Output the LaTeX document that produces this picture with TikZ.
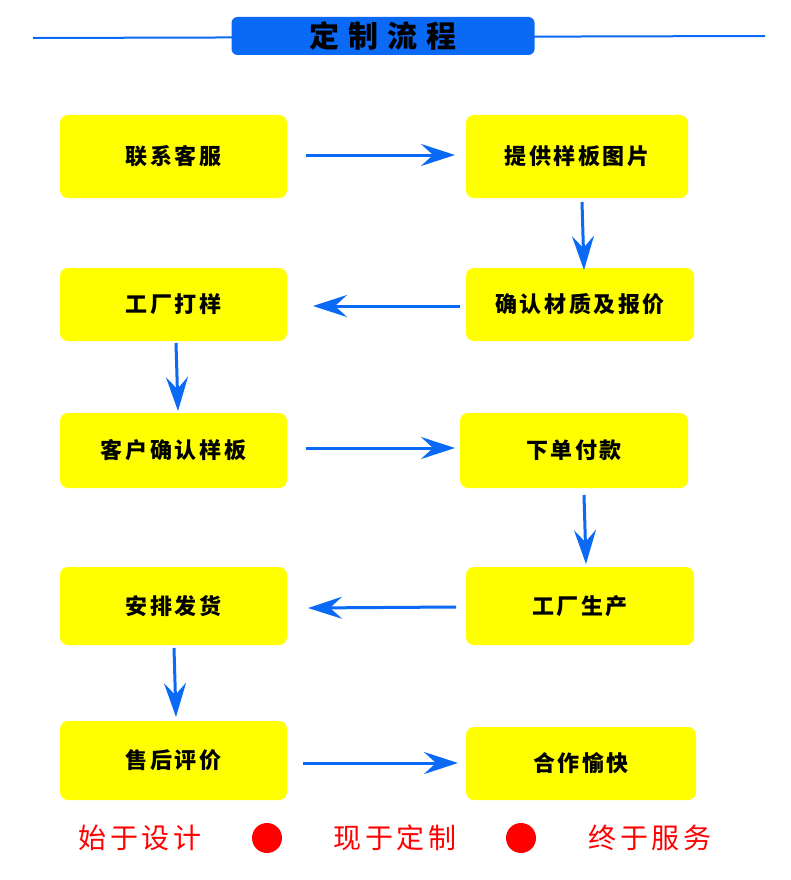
\documentclass[tikz,border=0pt]{standalone}
\usepackage{fontspec}
\newfontfamily\cjk[LetterSpace=12]{Noto Sans CJK SC}
\usetikzlibrary{arrows.meta}
\definecolor{bblue}{RGB}{10,105,245}
\definecolor{yel}{RGB}{255,255,0}
\begin{document}
\begin{tikzpicture}[x=1pt,y=-1pt,
 box/.style={fill=yel,rounded corners=8pt,inner sep=0pt,font=\cjk\fontsize{22}{24}\selectfont\bfseries},
 arr/.style={draw=bblue,line width=3pt,-{Stealth[length=34pt,width=22pt,inset=12pt]}},
 red/.style={text=red,font=\cjk\fontsize{28}{30}\selectfont}]
\useasboundingbox (0,0) rectangle (790,880);
\fill[white] (0,0) rectangle (790,880);
\coordinate (l1) at (33,38); \coordinate (l2) at (765,36);
\draw[bblue,line width=2pt] (l1) -- (l2);
\node[fill=bblue,rounded corners=6pt,minimum width=303pt,minimum height=38pt,font=\cjk\fontsize{30}{32}\selectfont\bfseries] (title) at (383,36) {定\hspace{0.3em}制\hspace{0.3em}流\hspace{0.3em}程};
\def\bx#1#2#3#4#5#6{\node[box,minimum width=#4-#2,minimum height=#5-#3] (#1) at ({(#2+#4)/2},{(#3+#5)/2}) {#6};}
\bx{n1}{60}{115}{287}{198}{联系客服}
\bx{n2}{466}{115}{688}{198}{提供样板图片}
\bx{n3}{60}{268}{287}{341}{工厂打样}
\bx{n4}{466}{268}{694}{341}{确认材质及报价}
\bx{n5}{60}{413}{287}{488}{客户确认样板}
\bx{n6}{460}{413}{688}{488}{下单付款}
\bx{n7}{60}{567}{287}{645}{安排发货}
\bx{n8}{466}{567}{694}{645}{工厂生产}
\bx{n9}{60}{721}{287}{800}{售后评价}
\bx{n10}{466}{727}{696}{800}{合作愉快}
\coordinate (a1) at (306,155); \coordinate (b1) at (455,155);
\coordinate (a2) at (582,202); \coordinate (b2) at (584,270);
\coordinate (a3) at (460,306); \coordinate (b3) at (313,306);
\coordinate (a4) at (176,343); \coordinate (b4) at (178,411);
\coordinate (a5) at (306,448); \coordinate (b5) at (455,448);
\coordinate (a6) at (584,495); \coordinate (b6) at (586,564);
\coordinate (a7) at (456,607); \coordinate (b7) at (308,608);
\coordinate (a8) at (174,648); \coordinate (b8) at (176,717);
\coordinate (a9) at (303,763); \coordinate (b9) at (458,763);
\foreach \i in {1,...,9} \draw[arr] (a\i) -- (b\i);
\node[red] (t1) at (140,838) {始于设计};
\node[circle,fill=red,minimum size=30pt,inner sep=0pt] (d1) at (267,838) {};
\node[red] (t2) at (395,838) {现于定制};
\node[circle,fill=red,minimum size=30pt,inner sep=0pt] (d2) at (521,838) {};
\node[red] (t3) at (650,838) {终于服务};
\end{tikzpicture}
\end{document}
